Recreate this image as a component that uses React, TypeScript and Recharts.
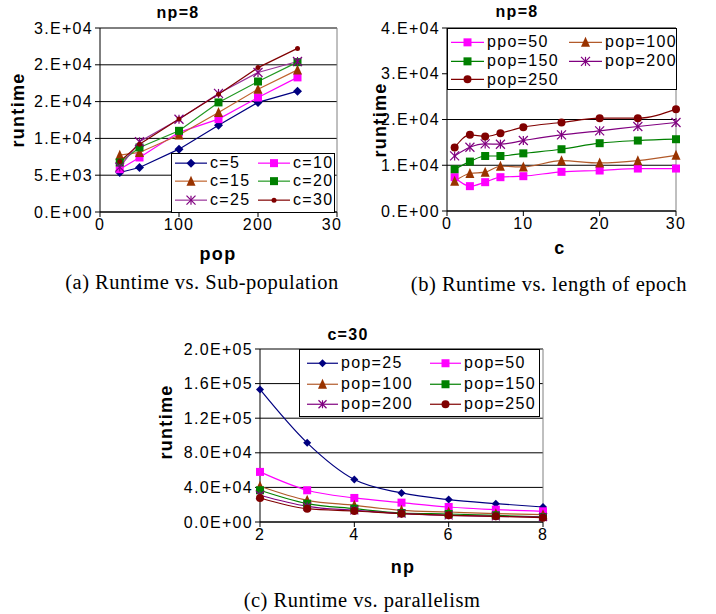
import React from "react";
import {
  CartesianGrid,
  Legend,
  Line,
  LineChart,
  ReferenceLine,
  XAxis,
  YAxis,
} from "recharts";

// (a) runtime vs. sub-population, np=8
const popValues = [25, 50, 100, 150, 200, 250];
const c5 = [5370, 6050, 8540, 11800, 14890, 16420];
const c10 = [5820, 7410, 10820, 12620, 15560, 18290];
const c15 = [7720, 8090, 10450, 13530, 16690, 19310];
const c20 = [6730, 8770, 11030, 14890, 17730, 20360];
const c25 = [6100, 9540, 12600, 16110, 18960, 20450];
const c30 = [6870, 9220, 12630, 16010, 19620, 22230];
const aXTicks = [0, 100, 200, 300];
const aYTicks = [0, 5000, 10000, 15000, 20000, 25000];
const aYLabels = ["0.E+00", "5.E+03", "1.E+04", "2.E+04", "2.E+04", "3.E+04"];

// (b) runtime vs. length of epoch, np=8
const cValues = [1, 3, 5, 7, 10, 15, 20, 25, 30];
const b50 = [7390, 5430, 6300, 7390, 7610, 8560, 8850, 9280, 9280];
const b100 = [6520, 8200, 8480, 9780, 9640, 11010, 10500, 11010, 12170];
const b150 = [9130, 10800, 12020, 12020, 12600, 13500, 14820, 15400, 15690];
const b200 = [12040, 13940, 14670, 14600, 15400, 16640, 17520, 18470, 19340];
const b250 = [13870, 16640, 16280, 17010, 18320, 19340, 20290, 20290, 22260];
const bXTicks = [0, 10, 20, 30];
const bYTicks = [0, 10000, 20000, 30000, 40000];
const bYLabels = ["0.E+00", "1.E+04", "2.E+04", "3.E+04", "4.E+04"];

// (c) runtime vs. parallelism, c=30
const npValues = [2, 3, 4, 5, 6, 7, 8];
const p25 = [153280, 91500, 49030, 33590, 25870, 21240, 17370];
const p50 = [57910, 36680, 27800, 22390, 17370, 14290, 12360];
const p100 = [41310, 25100, 19300, 13510, 11580, 9650, 8490];
const p150 = [36680, 21240, 15440, 10420, 9270, 7720, 5790];
const p200 = [30890, 18150, 13510, 9650, 7720, 6560, 5790];
const p250 = [27800, 15440, 12740, 9650, 7720, 6560, 5020];
const cXTicks = [2, 4, 6, 8];
const cYTicks = [0, 40000, 80000, 120000, 160000, 200000];
const cYLabels = ["0.0E+00", "4.0E+04", "8.0E+04", "1.2E+05", "1.6E+05", "2.0E+05"];

const dataA = popValues.map((pop, i) => ({
  pop,
  c5: c5[i],
  c10: c10[i],
  c15: c15[i],
  c20: c20[i],
  c25: c25[i],
  c30: c30[i],
}));
const dataB = cValues.map((c, i) => ({
  c,
  b50: b50[i],
  b100: b100[i],
  b150: b150[i],
  b200: b200[i],
  b250: b250[i],
}));
const dataC = npValues.map((np, i) => ({
  np,
  p25: p25[i],
  p50: p50[i],
  p100: p100[i],
  p150: p150[i],
  p200: p200[i],
  p250: p250[i],
}));

type Shape = "diamond" | "square" | "triangle" | "star" | "circle";
type Series = {
  key: string;
  name: string;
  color: string;
  line: string;
  shape: Shape;
  size: number;
};

const NAVY = "#000080";
const PINK = "#ff00ff";
const BROWN = "#993300";
const GREEN = "#008000";
const PURPLE = "#800080";
const DARKRED = "#800000";

const seriesA: Series[] = [
  { key: "c5", name: "c=5", color: NAVY, line: NAVY, shape: "diamond", size: 9 },
  { key: "c10", name: "c=10", color: PINK, line: PINK, shape: "square", size: 8 },
  { key: "c15", name: "c=15", color: BROWN, line: "#c0642e", shape: "triangle", size: 9 },
  { key: "c20", name: "c=20", color: GREEN, line: "#229922", shape: "square", size: 8 },
  { key: "c25", name: "c=25", color: PURPLE, line: "#9a339a", shape: "star", size: 9 },
  { key: "c30", name: "c=30", color: DARKRED, line: DARKRED, shape: "circle", size: 5 },
];
const seriesB: Series[] = [
  { key: "b50", name: "ppo=50", color: PINK, line: PINK, shape: "square", size: 8 },
  { key: "b100", name: "pop=100", color: BROWN, line: "#b25a2a", shape: "triangle", size: 9 },
  { key: "b150", name: "pop=150", color: GREEN, line: GREEN, shape: "square", size: 8 },
  { key: "b200", name: "pop=200", color: PURPLE, line: PURPLE, shape: "star", size: 9 },
  { key: "b250", name: "pop=250", color: DARKRED, line: DARKRED, shape: "circle", size: 8 },
];
const seriesC: Series[] = [
  { key: "p25", name: "pop=25", color: NAVY, line: NAVY, shape: "diamond", size: 8 },
  { key: "p50", name: "pop=50", color: PINK, line: PINK, shape: "square", size: 8 },
  { key: "p100", name: "pop=100", color: BROWN, line: "#b25a2a", shape: "triangle", size: 9 },
  { key: "p150", name: "pop=150", color: GREEN, line: GREEN, shape: "square", size: 8 },
  { key: "p200", name: "pop=200", color: PURPLE, line: PURPLE, shape: "star", size: 8 },
  { key: "p250", name: "pop=250", color: DARKRED, line: DARKRED, shape: "circle", size: 8 },
];

function Marker({ shape, x, y, color, size }: { shape: Shape; x: number; y: number; color: string; size: number }) {
  const s = size / 2;
  if (shape === "diamond") {
    return <polygon points={`${x},${y - s} ${x + s},${y} ${x},${y + s} ${x - s},${y}`} fill={color} />;
  }
  if (shape === "square") {
    return <rect x={x - s} y={y - s} width={size} height={size} fill={color} />;
  }
  if (shape === "triangle") {
    return <polygon points={`${x},${y - s - 1} ${x + s},${y + s} ${x - s},${y + s}`} fill={color} />;
  }
  if (shape === "star") {
    return (
      <g stroke={color} strokeWidth={1.2}>
        <line x1={x - s} y1={y - s} x2={x + s} y2={y + s} />
        <line x1={x - s} y1={y + s} x2={x + s} y2={y - s} />
        <line x1={x} y1={y - s} x2={x} y2={y + s} />
      </g>
    );
  }
  return <circle cx={x} cy={y} r={s} fill={color} />;
}

const dotFor = (s: Series) => (p: any) =>
  <Marker key={`${s.key}-${p.index}`} shape={s.shape} x={p.cx} y={p.cy} color={s.color} size={s.size} />;

function LegendBox({
  items,
  col2,
  rowH,
  lineW,
  padL,
  padT,
}: {
  items: Series[];
  col2: number;
  rowH: number;
  lineW: number;
  padL: number;
  padT: number;
}) {
  return (
    <div
      style={{
        width: "100%",
        height: "100%",
        boxSizing: "border-box",
        border: "1px solid #000",
        background: "#fff",
        paddingLeft: padL,
        paddingTop: padT,
        display: "grid",
        gridTemplateColumns: `${col2}px auto`,
        gridAutoRows: `${rowH}px`,
        fontSize: 16,
        color: "#000",
      }}
    >
      {items.map((it) => (
        <div key={it.key} style={{ display: "flex", alignItems: "center", whiteSpace: "nowrap" }}>
          <svg width={lineW} height={rowH}>
            <line x1={0} y1={rowH / 2} x2={lineW} y2={rowH / 2} stroke={it.line} strokeWidth={1.2} />
            <Marker shape={it.shape} x={lineW / 2} y={rowH / 2} color={it.color} size={it.size} />
          </svg>
          <span style={{ marginLeft: 3 }}>{it.name}</span>
        </div>
      ))}
    </div>
  );
}

const tickStyle = { fill: "#000", fontSize: 16 };

function Text({ x, y, children, bold, size, rotate, serif }: any) {
  return (
    <div
      style={{
        position: "absolute",
        left: x,
        top: y,
        transform: `translate(-50%, -50%)${rotate ? " rotate(-90deg)" : ""}`,
        whiteSpace: "nowrap",
        fontWeight: bold ? 700 : 400,
        fontSize: size,
        fontFamily: serif ? "'Liberation Serif', 'Times New Roman', serif" : undefined,
        letterSpacing: serif ? "0.5px" : undefined,
        lineHeight: 1,
      }}
    >
      {children}
    </div>
  );
}

export default function App() {
  return (
    <div
      style={{
        position: "absolute",
        left: 0,
        top: 0,
        width: 716,
        height: 614,
        background: "#fff",
        fontFamily: "'Liberation Sans', Arial, sans-serif",
        letterSpacing: "1.3px",
        color: "#000",
        overflow: "hidden",
      }}
    >
      {/* (a) */}
      <div style={{ position: "absolute", left: 0, top: 0, width: 341, height: 270, overflow: "hidden" }}>
        <LineChart width={341} height={270} data={dataA} margin={{ top: 28, right: 4, left: 0, bottom: 0 }}>
          <CartesianGrid vertical={false} stroke="#000" />
          <XAxis
            type="number"
            dataKey="pop"
            domain={[0, 300]}
            ticks={aXTicks}
            interval={0}
            height={58}
            tick={tickStyle}
            tickSize={5}
            stroke="#000"
          />
          <YAxis
            type="number"
            domain={[0, 25000]}
            ticks={aYTicks}
            interval={0}
            width={100}
            tick={tickStyle}
            tickSize={5}
            stroke="#000"
            tickFormatter={(v, i) => aYLabels[i]}
          />
          <ReferenceLine x={300} stroke="#808080" />
          {seriesA.map((s) => (
            <Line
              key={s.key}
              type="linear"
              dataKey={s.key}
              stroke={s.line}
              strokeWidth={1.2}
              dot={dotFor(s)}
              activeDot={false}
              isAnimationActive={false}
            />
          ))}
          <Legend
            layout="horizontal"
            verticalAlign="middle"
            align="center"
            wrapperStyle={{ left: 171, top: 153, width: 164, height: 60 }}
            content={() => <LegendBox items={seriesA} col2={83} rowH={18.3} lineW={32} padL={3} padT={0} />}
          />
        </LineChart>
        <Text x={178} y={13} bold size={16}>np=8</Text>
        <Text x={218} y={254} bold size={18}>pop</Text>
        <Text x={18} y={110} bold size={18} rotate>runtime</Text>
      </div>

      {/* (b) */}
      <div style={{ position: "absolute", left: 360, top: 0 }}>
        <LineChart width={330} height={270} data={dataB} margin={{ top: 28, right: 14, left: 0, bottom: 0 }}>
          <CartesianGrid vertical={false} stroke="#000" />
          <XAxis
            type="number"
            dataKey="c"
            domain={[0, 30]}
            ticks={bXTicks}
            interval={0}
            height={59}
            tick={tickStyle}
            tickSize={5}
            stroke="#000"
          />
          <YAxis
            type="number"
            domain={[0, 40000]}
            ticks={bYTicks}
            interval={0}
            width={87}
            tick={tickStyle}
            tickSize={5}
            stroke="#000"
            tickFormatter={(v, i) => bYLabels[i]}
          />
          <ReferenceLine x={30} stroke="#808080" />
          {seriesB.map((s) => (
            <Line
              key={s.key}
              type="monotone"
              dataKey={s.key}
              stroke={s.line}
              strokeWidth={1.2}
              dot={dotFor(s)}
              activeDot={false}
              isAnimationActive={false}
            />
          ))}
          <Legend
            layout="horizontal"
            verticalAlign="middle"
            align="center"
            wrapperStyle={{ left: 87, top: 28, width: 230, height: 62 }}
            content={() => <LegendBox items={seriesB} col2={118} rowH={18.7} lineW={33} padL={3} padT={4} />}
          />
        </LineChart>
        <Text x={157} y={12} bold size={16}>np=8</Text>
        <Text x={200} y={248} bold size={18}>c</Text>
        <Text x={20} y={120} bold size={18} rotate>runtime</Text>
      </div>

      {/* (c) */}
      <div style={{ position: "absolute", left: 150, top: 300 }}>
        <LineChart width={400} height={280} data={dataC} margin={{ top: 49, right: 7, left: 0, bottom: 0 }}>
          <CartesianGrid vertical={false} stroke="#000" />
          <XAxis
            type="number"
            dataKey="np"
            domain={[2, 8]}
            ticks={cXTicks}
            interval={0}
            height={58}
            tick={tickStyle}
            tickSize={5}
            stroke="#000"
          />
          <YAxis
            type="number"
            domain={[0, 200000]}
            ticks={cYTicks}
            interval={0}
            width={110}
            tick={tickStyle}
            tickSize={5}
            stroke="#000"
            tickFormatter={(v, i) => cYLabels[i]}
          />
          <ReferenceLine x={8} stroke="#808080" />
          {seriesC.map((s) => (
            <Line
              key={s.key}
              type="monotone"
              dataKey={s.key}
              stroke={s.line}
              strokeWidth={1.2}
              dot={dotFor(s)}
              activeDot={false}
              isAnimationActive={false}
            />
          ))}
          <Legend
            layout="horizontal"
            verticalAlign="middle"
            align="center"
            wrapperStyle={{ left: 149, top: 49, width: 241, height: 68 }}
            content={() => <LegendBox items={seriesC} col2={123} rowH={20.5} lineW={31} padL={7} padT={3} />}
          />
        </LineChart>
        <Text x={198} y={35} bold size={16}>c=30</Text>
        <Text x={253} y={267} bold size={18}>np</Text>
        <Text x={16} y={122} bold size={18} rotate>runtime</Text>
      </div>

      <Text x={202} y={282} size={20.5} serif>(a) Runtime vs. Sub-population</Text>
      <Text x={549} y={284} size={20.5} serif>(b) Runtime vs. length of epoch</Text>
      <Text x={362} y={600} size={20.5} serif>(c) Runtime vs. parallelism</Text>
    </div>
  );
}
